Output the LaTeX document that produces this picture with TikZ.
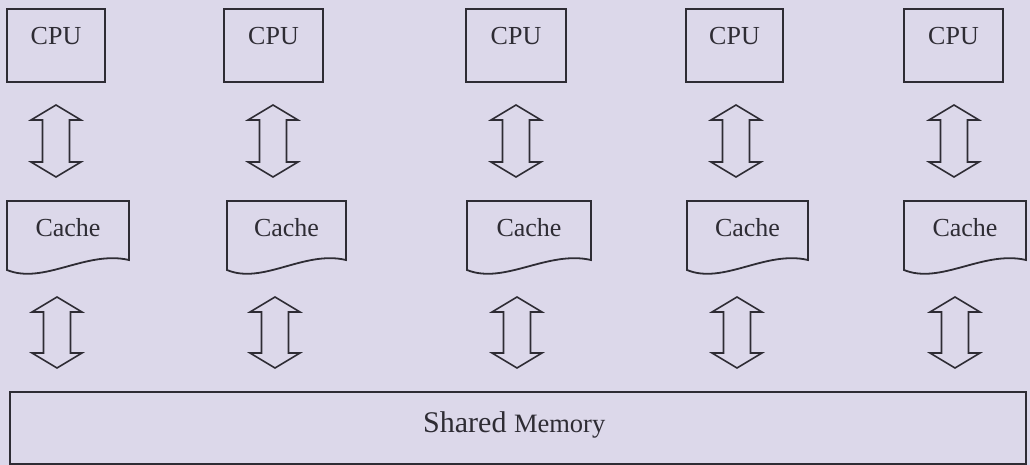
\documentclass[tikz,border=0pt]{standalone}
\usepackage{fontspec}
\setmainfont{Liberation Serif}
\usetikzlibrary{calc}
\definecolor{paper}{RGB}{220,216,234}
\definecolor{ink}{RGB}{46,44,52}

% hollow double-headed arrow between two named points (same x)
\newcommand{\DblArrow}[2]{%
  \draw[arrowline] let \p1=(#1), \p2=(#2) in
    (\x1,\y1) -- (\x1+25pt,\y1-15pt) -- (\x1+13.5pt,\y1-15pt)
    -- (\x1+13.5pt,\y2+15pt) -- (\x1+25pt,\y2+15pt) -- (\x1,\y2)
    -- (\x1-25pt,\y2+15pt) -- (\x1-13.5pt,\y2+15pt)
    -- (\x1-13.5pt,\y1-15pt) -- (\x1-25pt,\y1-15pt) -- cycle;}

% cache block drawn as a document shape with a wavy bottom edge
\newcommand{\CacheBox}[3]{%
  \pgfmathsetmacro{\ca}{#2+0.3*(#3-#2)}%
  \pgfmathsetmacro{\cb}{#2+0.65*(#3-#2)}%
  \draw[boxline] (#2,270) -- (#2,201) -- (#3,201) -- (#3,260)
    .. controls (\cb,250) and (\ca,285) .. (#2,270) -- cycle;
  \node[lbl, anchor=base] (#1) at ({(#2+#3)/2},236) {Cache};}

\begin{document}
\begin{tikzpicture}[x=1pt, y=-1pt,
  boxline/.style={draw=ink, line width=1.8pt, line join=miter},
  arrowline/.style={draw=ink, line width=1.6pt, line join=miter},
  cpubox/.style={boxline, rectangle, inner sep=0pt, minimum height=73pt},
  lbl/.style={inner sep=0pt, text=ink, font=\fontsize{26}{30}\selectfont}]

\useasboundingbox (0,0) rectangle (1030,465);
\fill[paper] (0,0) rectangle (1030,465);

% processors
\node[cpubox, minimum width=98pt]  (cpu1) at (56,45.5)    {};
\node[cpubox, minimum width=99pt]  (cpu2) at (273.5,45.5) {};
\node[cpubox, minimum width=100pt] (cpu3) at (516,45.5)   {};
\node[cpubox, minimum width=97pt]  (cpu4) at (734.5,45.5) {};
\node[cpubox, minimum width=99pt]  (cpu5) at (953.5,45.5) {};
\foreach \c in {cpu1,cpu2,cpu3,cpu4,cpu5}
  \node[lbl, anchor=base] (\c t) at ($(\c.center)+(0,-0.5)$) {CPU};

% caches
\CacheBox{cache1}{7}{129}
\CacheBox{cache2}{227}{346}
\CacheBox{cache3}{467}{591}
\CacheBox{cache4}{687}{808}
\CacheBox{cache5}{904}{1026}

% shared memory
\node[boxline, rectangle, inner sep=0pt, minimum width=1016pt,
      minimum height=72pt] (mem) at (518,428) {};
\node[inner sep=0pt, text=ink, anchor=base west] (memt) at (423,432)
  {\fontsize{30}{34}\selectfont Shared \fontsize{26.5}{30}\selectfont Memory};

% arrow end points
\foreach \i/\xa/\xb in {1/56/57, 2/273/275, 3/516/517, 4/736/737, 5/954/955}{
  \coordinate (up\i a) at (\xa,105);
  \coordinate (up\i b) at (\xa,177);
  \coordinate (lo\i a) at (\xb,297);
  \coordinate (lo\i b) at (\xb,368);
}

% CPU <-> cache and cache <-> memory links
\foreach \i in {1,...,5}{
  \DblArrow{up\i a}{up\i b}
  \DblArrow{lo\i a}{lo\i b}
}
\end{tikzpicture}
\end{document}
